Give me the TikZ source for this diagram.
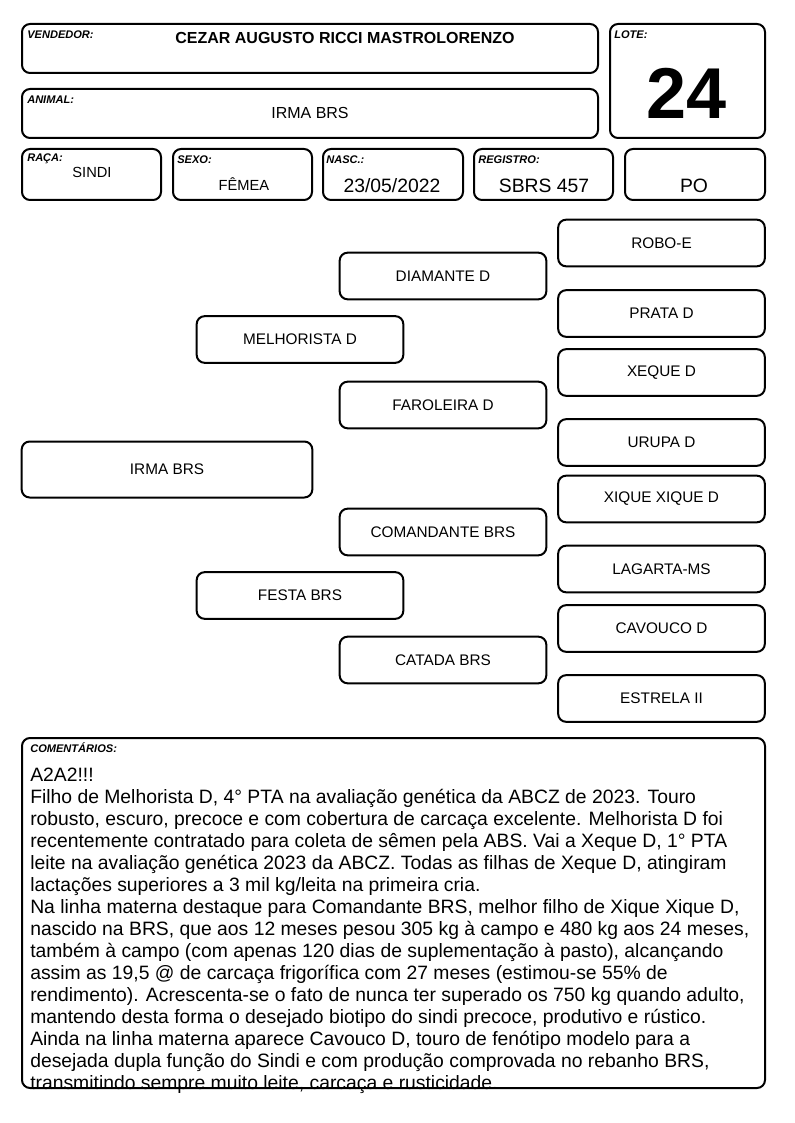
\documentclass[tikz,border=0pt]{standalone}
\usepackage{fontspec}
\setmainfont{Liberation Sans}
\usepackage{tikz}

\tikzset{
  cell/.style={line width=1.5pt, rounded corners=6pt},
  tag/.style={anchor=west, inner sep=0pt, font=\fontsize{8.3}{9}\selectfont\bfseries\itshape},
  animal/.style={draw, line width=1.5pt, rounded corners=6pt, inner sep=0pt,
    minimum width=155pt, minimum height=35pt, font=\fontsize{11.5}{13}\selectfont}
}

\begin{document}
\begin{tikzpicture}[x=0.75pt, y=-0.75pt]
            \useasboundingbox (0,0) rectangle (794,1123);

            % header
            \draw[cell] (22,24) rectangle (598,73);
            \draw[cell] (22,89) rectangle (598,138);
            \draw[cell] (610,24) rectangle (765,138);
            \draw[cell] (22,149) rectangle (161,200);
            \draw[cell] (173,149) rectangle (312,200);
            \draw[cell] (323,149) rectangle (463,200);
            \draw[cell] (474,149) rectangle (613,200);
            \draw[cell] (625,149) rectangle (765,200);

            \node[tag] (t1) at (27,35) {VENDEDOR:};
            \node[tag] (t2) at (27,100) {ANIMAL:};
            \node[tag] (t3) at (614,35) {LOTE:};
            \node[tag] (t4) at (27,159) {RAÇA:};
            \node[tag] (t5) at (177,160) {SEXO:};
            \node[tag] (t6) at (326,160) {NASC.:};
            \node[tag] (t7) at (478,160) {REGISTRO:};

            \node[font=\fontsize{12}{14}\selectfont\bfseries] (h1) at (345,38) {CEZAR AUGUSTO RICCI MASTROLORENZO};
            \node[font=\fontsize{12}{14}\selectfont] (h2) at (310,113) {IRMA BRS};
            \node[font=\fontsize{54}{60}\selectfont\bfseries] (h3) at (687,93) {24};
            \node[font=\fontsize{11}{13}\selectfont] (h4) at (92,172) {SINDI};
            \node[font=\fontsize{11}{13}\selectfont] (h5) at (244,184) {FÊMEA};
            \node[font=\fontsize{14.5}{16}\selectfont] (h6) at (392,186) {23/05/2022};
            \node[font=\fontsize{14.5}{16}\selectfont] (h7) at (544,186) {SBRS 457};
            \node[font=\fontsize{14.5}{16}\selectfont] (h8) at (694,186) {PO};

            % pedigree
            \node[animal, minimum width=218pt, minimum height=42pt] (a1) at (167,469.5) {IRMA BRS};

            \node[animal] (b1) at (300,339.5) {MELHORISTA D};
            \node[animal] (b2) at (300,595.5) {FESTA BRS};

            \node[animal] (c1) at (443,276) {DIAMANTE D};
            \node[animal] (c2) at (443,405) {FAROLEIRA D};
            \node[animal] (c3) at (443,532) {COMANDANTE BRS};
            \node[animal] (c4) at (443,660) {CATADA BRS};

            \node[animal] (d1) at (661.5,243) {ROBO-E};
            \node[animal] (d2) at (661.5,313.5) {PRATA D};
            \node[animal] (d3) at (661.5,372.5) {XEQUE D};
            \node[animal] (d4) at (661.5,442.5) {URUPA D};
            \node[animal] (d5) at (661.5,499) {XIQUE XIQUE D};
            \node[animal] (d6) at (661.5,569) {LAGARTA-MS};
            \node[animal] (d7) at (661.5,628.5) {CAVOUCO D};
            \node[animal] (d8) at (661.5,698.5) {ESTRELA II};

            % comments
            \node[tag] (t8) at (30,748) {COMENTÁRIOS:};
            \node[anchor=north west, inner sep=0pt, align=left,
                  font=\fontsize{14.5}{16.5}\selectfont] (k1) at (30,768) {%
              A2A2!!!\\
              Filho de Melhorista D, 4° PTA na avaliação genética da ABCZ de 2023. Touro\\
              robusto, escuro, precoce e com cobertura de carcaça excelente. Melhorista D foi\\
              recentemente contratado para coleta de sêmen pela ABS. Vai a Xeque D, 1° PTA\\
              leite na avaliação genética 2023 da ABCZ. Todas as filhas de Xeque D, atingiram\\
              lactações superiores a 3 mil kg/leita na primeira cria.\\
              Na linha materna destaque para Comandante BRS, melhor filho de Xique Xique D,\\
              nascido na BRS, que aos 12 meses pesou 305 kg à campo e 480 kg aos 24 meses,\\
              também à campo (com apenas 120 dias de suplementação à pasto), alcançando\\
              assim as 19,5 @ de carcaça frigorífica com 27 meses (estimou-se 55\% de\\
              rendimento). Acrescenta-se o fato de nunca ter superado os 750 kg quando adulto,\\
              mantendo desta forma o desejado biotipo do sindi precoce, produtivo e rústico.\\
              Ainda na linha materna aparece Cavouco D, touro de fenótipo modelo para a\\
              desejada dupla função do Sindi e com produção comprovada no rebanho BRS,\\
              transmitindo sempre muito leite, carcaça e rusticidade.};
            \draw[cell] (22,738) rectangle (765,1088);
        \end{tikzpicture}
\end{document}
